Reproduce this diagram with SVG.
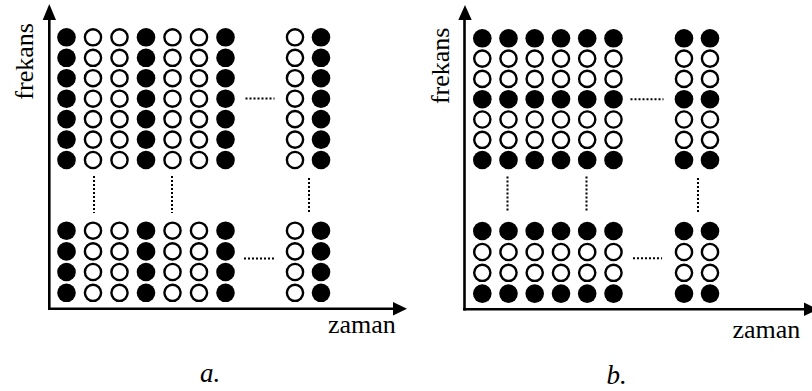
<svg xmlns="http://www.w3.org/2000/svg" width="812" height="391" viewBox="0 0 812 391">
<style>
.b{fill:#000}
.w{fill:#fff;stroke:#000;stroke-width:2.4}
.ax{stroke:#000;stroke-width:2.6;fill:none}
.dot{stroke:#000;stroke-width:2;stroke-dasharray:2 2;fill:none}
text{font-family:"Liberation Serif","Times New Roman","DejaVu Serif",serif;font-size:26px;fill:#000}
.i{font-style:italic;font-size:27px}
</style>
<defs>
<circle id="B" r="9.3" class="b"/>
<circle id="W" r="8.1" class="w"/>
</defs>
<g id="panel-a">
<g id="axes-a">
<line class="ax" x1="49.3" y1="310" x2="49.3" y2="18"/>
<polygon points="49.3,4 42.7,20 56,20"/>
<line class="ax" x1="48" y1="308.7" x2="395" y2="308.7"/>
<polygon points="407,308.7 393,302 393,315.4"/>
</g>
<g id="grid-a-top">
<g transform="translate(0,37.3)"><use href="#B" x="66.5"/><use href="#W" x="93"/><use href="#W" x="119.5"/><use href="#B" x="146"/><use href="#W" x="172.5"/><use href="#W" x="199"/><use href="#B" x="225.5"/><use href="#W" x="295"/><use href="#B" x="321"/></g>
<g transform="translate(0,57.8)"><use href="#B" x="66.5"/><use href="#W" x="93"/><use href="#W" x="119.5"/><use href="#B" x="146"/><use href="#W" x="172.5"/><use href="#W" x="199"/><use href="#B" x="225.5"/><use href="#W" x="295"/><use href="#B" x="321"/></g>
<g transform="translate(0,78.2)"><use href="#B" x="66.5"/><use href="#W" x="93"/><use href="#W" x="119.5"/><use href="#B" x="146"/><use href="#W" x="172.5"/><use href="#W" x="199"/><use href="#B" x="225.5"/><use href="#W" x="295"/><use href="#B" x="321"/></g>
<g transform="translate(0,98.7)"><use href="#B" x="66.5"/><use href="#W" x="93"/><use href="#W" x="119.5"/><use href="#B" x="146"/><use href="#W" x="172.5"/><use href="#W" x="199"/><use href="#B" x="225.5"/><use href="#W" x="295"/><use href="#B" x="321"/></g>
<g transform="translate(0,119.1)"><use href="#B" x="66.5"/><use href="#W" x="93"/><use href="#W" x="119.5"/><use href="#B" x="146"/><use href="#W" x="172.5"/><use href="#W" x="199"/><use href="#B" x="225.5"/><use href="#W" x="295"/><use href="#B" x="321"/></g>
<g transform="translate(0,139.6)"><use href="#B" x="66.5"/><use href="#W" x="93"/><use href="#W" x="119.5"/><use href="#B" x="146"/><use href="#W" x="172.5"/><use href="#W" x="199"/><use href="#B" x="225.5"/><use href="#W" x="295"/><use href="#B" x="321"/></g>
<g transform="translate(0,160)"><use href="#B" x="66.5"/><use href="#W" x="93"/><use href="#W" x="119.5"/><use href="#B" x="146"/><use href="#W" x="172.5"/><use href="#W" x="199"/><use href="#B" x="225.5"/><use href="#W" x="295"/><use href="#B" x="321"/></g>
</g>
<g id="grid-a-bottom">
<g transform="translate(0,230.7)"><use href="#B" x="66.5"/><use href="#W" x="93"/><use href="#W" x="119.5"/><use href="#B" x="146"/><use href="#W" x="172.5"/><use href="#W" x="199"/><use href="#B" x="225.5"/><use href="#W" x="295"/><use href="#B" x="321"/></g>
<g transform="translate(0,251.4)"><use href="#B" x="66.5"/><use href="#W" x="93"/><use href="#W" x="119.5"/><use href="#B" x="146"/><use href="#W" x="172.5"/><use href="#W" x="199"/><use href="#B" x="225.5"/><use href="#W" x="295"/><use href="#B" x="321"/></g>
<g transform="translate(0,272)"><use href="#B" x="66.5"/><use href="#W" x="93"/><use href="#W" x="119.5"/><use href="#B" x="146"/><use href="#W" x="172.5"/><use href="#W" x="199"/><use href="#B" x="225.5"/><use href="#W" x="295"/><use href="#B" x="321"/></g>
<g transform="translate(0,292.8)"><use href="#B" x="66.5"/><use href="#W" x="93"/><use href="#W" x="119.5"/><use href="#B" x="146"/><use href="#W" x="172.5"/><use href="#W" x="199"/><use href="#B" x="225.5"/><use href="#W" x="295"/><use href="#B" x="321"/></g>
</g>
<g id="dots-a">
<line class="dot" x1="94" y1="176" x2="94" y2="213"/>
<line class="dot" x1="172" y1="176" x2="172" y2="213"/>
<line class="dot" x1="309" y1="178" x2="309" y2="214"/>
<line class="dot" x1="245.5" y1="98.5" x2="274.5" y2="98.5"/>
<line class="dot" x1="244" y1="258.5" x2="274" y2="258.5"/>
</g>
<text transform="translate(33,61.4) rotate(-90)" text-anchor="middle">frekans</text>
<text x="328" y="333.3">zaman</text>
<text class="i" x="200" y="382">a.</text>
</g>
<g id="panel-b">
<g id="axes-b">
<line class="ax" x1="464.5" y1="310.6" x2="464.5" y2="18"/>
<polygon points="465,5 458.3,20 471.7,20"/>
<line class="ax" x1="463.2" y1="309.3" x2="806" y2="309.3"/>
<polygon points="818,309.3 804,302.6 804,316"/>
</g>
<g id="grid-b-top">
<g transform="translate(0,38.3)"><use href="#B" x="482.3"/><use href="#B" x="508.5"/><use href="#B" x="534.7"/><use href="#B" x="561"/><use href="#B" x="587.2"/><use href="#B" x="613.5"/><use href="#B" x="684"/><use href="#B" x="710"/></g>
<g transform="translate(0,58.6)"><use href="#W" x="482.3"/><use href="#W" x="508.5"/><use href="#W" x="534.7"/><use href="#W" x="561"/><use href="#W" x="587.2"/><use href="#W" x="613.5"/><use href="#W" x="684"/><use href="#W" x="710"/></g>
<g transform="translate(0,78.9)"><use href="#W" x="482.3"/><use href="#W" x="508.5"/><use href="#W" x="534.7"/><use href="#W" x="561"/><use href="#W" x="587.2"/><use href="#W" x="613.5"/><use href="#W" x="684"/><use href="#W" x="710"/></g>
<g transform="translate(0,99.2)"><use href="#B" x="482.3"/><use href="#B" x="508.5"/><use href="#B" x="534.7"/><use href="#B" x="561"/><use href="#B" x="587.2"/><use href="#B" x="613.5"/><use href="#B" x="684"/><use href="#B" x="710"/></g>
<g transform="translate(0,119.5)"><use href="#W" x="482.3"/><use href="#W" x="508.5"/><use href="#W" x="534.7"/><use href="#W" x="561"/><use href="#W" x="587.2"/><use href="#W" x="613.5"/><use href="#W" x="684"/><use href="#W" x="710"/></g>
<g transform="translate(0,139.8)"><use href="#W" x="482.3"/><use href="#W" x="508.5"/><use href="#W" x="534.7"/><use href="#W" x="561"/><use href="#W" x="587.2"/><use href="#W" x="613.5"/><use href="#W" x="684"/><use href="#W" x="710"/></g>
<g transform="translate(0,160)"><use href="#B" x="482.3"/><use href="#B" x="508.5"/><use href="#B" x="534.7"/><use href="#B" x="561"/><use href="#B" x="587.2"/><use href="#B" x="613.5"/><use href="#B" x="684"/><use href="#B" x="710"/></g>
</g>
<g id="grid-b-bottom">
<g transform="translate(0,231)"><use href="#B" x="482.3"/><use href="#B" x="508.5"/><use href="#B" x="534.7"/><use href="#B" x="561"/><use href="#B" x="587.2"/><use href="#B" x="613.5"/><use href="#B" x="684"/><use href="#B" x="710"/></g>
<g transform="translate(0,252)"><use href="#W" x="482.3"/><use href="#W" x="508.5"/><use href="#W" x="534.7"/><use href="#W" x="561"/><use href="#W" x="587.2"/><use href="#W" x="613.5"/><use href="#W" x="684"/><use href="#W" x="710"/></g>
<g transform="translate(0,272.8)"><use href="#W" x="482.3"/><use href="#W" x="508.5"/><use href="#W" x="534.7"/><use href="#W" x="561"/><use href="#W" x="587.2"/><use href="#W" x="613.5"/><use href="#W" x="684"/><use href="#W" x="710"/></g>
<g transform="translate(0,293.6)"><use href="#B" x="482.3"/><use href="#B" x="508.5"/><use href="#B" x="534.7"/><use href="#B" x="561"/><use href="#B" x="587.2"/><use href="#B" x="613.5"/><use href="#B" x="684"/><use href="#B" x="710"/></g>
</g>
<g id="dots-b">
<line class="dot" x1="507.5" y1="176.5" x2="507.5" y2="212"/>
<line class="dot" x1="586.5" y1="176.5" x2="586.5" y2="212"/>
<line class="dot" x1="698" y1="178" x2="698" y2="212"/>
<line class="dot" x1="630.5" y1="99.3" x2="663.5" y2="99.3"/>
<line class="dot" x1="633" y1="258.3" x2="662" y2="258.3"/>
</g>
<text transform="translate(449,65.8) rotate(-90)" text-anchor="middle">frekans</text>
<text x="732.5" y="338.3">zaman</text>
<text class="i" x="606.5" y="383.5">b.</text>
</g>
</svg>
